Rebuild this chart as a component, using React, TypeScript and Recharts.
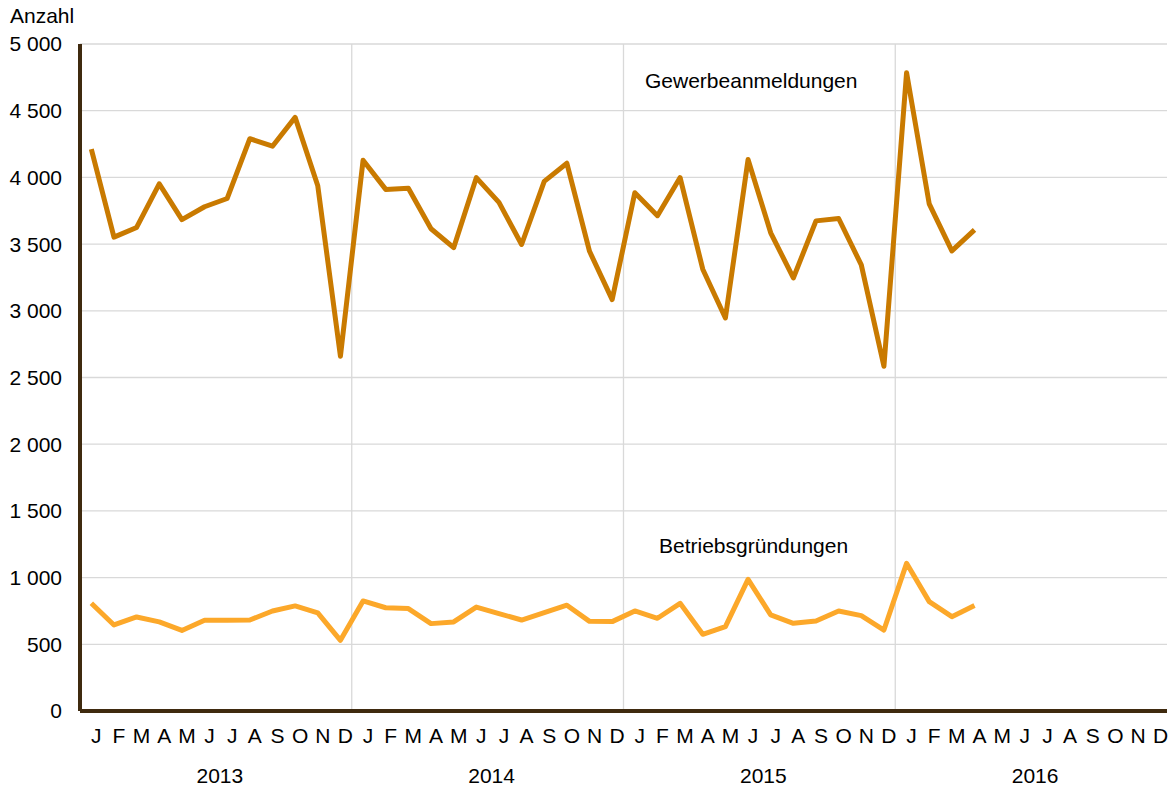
import { CartesianGrid, Line, LineChart, ReferenceLine, XAxis, YAxis } from 'recharts'

// Gewerbeanmeldungen und Betriebsgründungen, Jan 2013 – Apr 2016
const monthLetters = ['J', 'F', 'M', 'A', 'M', 'J', 'J', 'A', 'S', 'O', 'N', 'D']
const years = [2013, 2014, 2015, 2016]

const gewerbeanmeldungen = [
  4212, 3552, 3625, 3952, 3684, 3780, 3842, 4290, 4234, 4450, 3937, 2659,
  4128, 3910, 3918, 3615, 3473, 3998, 3813, 3497, 3970, 4106, 3446, 3084,
  3885, 3713, 3999, 3312, 2946, 4134, 3585, 3246, 3674, 3692, 3344, 2584,
  4785, 3801, 3449, 3607,
]

const betriebsgruendungen = [
  808, 645, 705, 668, 604, 680, 681, 682, 750, 788, 736, 530,
  825, 774, 768, 655, 668, 779, 730, 682, 737, 793, 672, 670,
  750, 695, 807, 575, 632, 987, 720, 657, 675, 750, 715, 607,
  1107, 820, 707, 790,
]

const yTicks = [0, 500, 1000, 1500, 2000, 2500, 3000, 3500, 4000, 4500, 5000]

const data = gewerbeanmeldungen.map((g, i) => ({
  pos: i + 0.5,
  gewerbe: g,
  betrieb: betriebsgruendungen[i],
}))

const totalMonths = years.length * 12
const boundaryTicks = Array.from({ length: totalMonths + 1 }, (_, i) => i)
const monthTicks = Array.from({ length: totalMonths }, (_, i) => i + 0.5)
const yearTicks = years.map((_, i) => i * 12 + 6)
const yearLines = [12, 24, 36]

const AXIS = '#3f2a0f'
const GRID = '#d9d9d9'
const FONT = '"Liberation Sans", Arial, sans-serif'

const fmt = (v: number) => {
  const s = String(v)
  return s.length > 3 ? `${s.slice(0, -3)} ${s.slice(-3)}` : s
}

export default function App() {
  return (
    <div style={{ position: 'absolute', left: 0, top: 0, width: 1173, height: 791, background: '#fff', fontFamily: FONT }}>
      <div style={{ position: 'absolute', left: 10, top: 5, fontSize: 21, lineHeight: '21px', color: '#000' }}>Anzahl</div>
      <div style={{ position: 'absolute', left: 645, top: 70, fontSize: 21, lineHeight: '21px', color: '#000' }}>
        Gewerbeanmeldungen
      </div>
      <div style={{ position: 'absolute', left: 659, top: 535, fontSize: 21, lineHeight: '21px', color: '#000' }}>
        Betriebsgründungen
      </div>
      <LineChart
        width={1173}
        height={791}
        data={data}
        margin={{ top: 44, right: 6, bottom: 0, left: 0 }}
      >
        <CartesianGrid stroke={GRID} strokeWidth={1.3} vertical={false} xAxisId="data" />
        <XAxis
          xAxisId="data"
          dataKey="pos"
          type="number"
          domain={[0, totalMonths]}
          ticks={boundaryTicks}
          tick={false}
          tickSize={5}
          tickLine={{ stroke: AXIS, strokeWidth: 3 }}
          axisLine={{ stroke: AXIS, strokeWidth: 4 }}
          height={4}
          allowDataOverflow
        />
        <XAxis
          xAxisId="months"
          dataKey="pos"
          type="number"
          domain={[0, totalMonths]}
          ticks={monthTicks}
          tickFormatter={(v: number) => monthLetters[Math.floor(v) % 12]}
          tick={{ fill: '#000', fontSize: 21, fontFamily: FONT, dx: 5 }}
          tickLine={false}
          axisLine={false}
          tickSize={0}
          tickMargin={13}
          interval={0}
          height={40}
          allowDataOverflow
        />
        <XAxis
          xAxisId="years"
          dataKey="pos"
          type="number"
          domain={[0, totalMonths]}
          ticks={yearTicks}
          tickFormatter={(v: number) => String(years[Math.floor(v / 12)])}
          tick={{ fill: '#000', fontSize: 21, fontFamily: FONT, dx: 4 }}
          tickLine={false}
          axisLine={false}
          tickSize={0}
          tickMargin={13}
          interval={0}
          height={36}
          allowDataOverflow
        />
        <YAxis
          width={80}
          domain={[0, 5000]}
          ticks={yTicks}
          tickFormatter={fmt}
          tick={{ fill: '#000', fontSize: 21, fontFamily: FONT }}
          tickLine={false}
          tickSize={0}
          tickMargin={18}
          axisLine={{ stroke: AXIS, strokeWidth: 4 }}
          interval={0}
        />
        {yearLines.map((x) => (
          <ReferenceLine key={x} x={x} xAxisId="data" stroke={GRID} strokeWidth={1.3} />
        ))}
        <Line
          xAxisId="data"
          type="linear"
          dataKey="gewerbe"
          stroke="#c97a00"
          strokeWidth={5}
          strokeLinejoin="round"
          dot={false}
          isAnimationActive={false}
        />
        <Line
          xAxisId="data"
          type="linear"
          dataKey="betrieb"
          stroke="#fca82a"
          strokeWidth={5}
          strokeLinejoin="round"
          dot={false}
          isAnimationActive={false}
        />
      </LineChart>
    </div>
  )
}
